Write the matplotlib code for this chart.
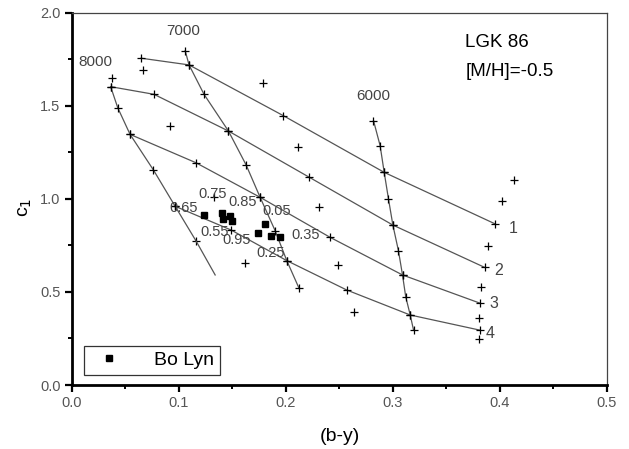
import matplotlib
matplotlib.use("Agg")
import matplotlib.pyplot as plt
from matplotlib.ticker import MultipleLocator

plt.rcParams['font.family'] = ['Liberation Sans', 'DejaVu Sans']

# lines of constant gravity (labelled 1..4 at the right end)
g1_x = [0.0648, 0.1096, 0.1978, 0.2919, 0.3956]
g1_y = [1.755, 1.719, 1.446, 1.142, 0.865]
g2_x = [0.0364, 0.0769, 0.1464, 0.2221, 0.300, 0.3856]
g2_y = [1.602, 1.561, 1.364, 1.115, 0.859, 0.632]
g3_x = [0.0545, 0.1159, 0.176, 0.2414, 0.309, 0.3816]
g3_y = [1.346, 1.194, 1.008, 0.793, 0.591, 0.439]
g4_x = [0.0966, 0.149, 0.2009, 0.257, 0.3162, 0.381]
g4_y = [0.960, 0.832, 0.668, 0.510, 0.376, 0.295]
g_labels = ['1', '2', '3', '4']
g_label_x = [0.412, 0.399, 0.394, 0.391]
g_label_y = [0.842, 0.614, 0.439, 0.279]

# isotherms
t8000_x = [0.0364, 0.0430, 0.0545, 0.0763, 0.0966, 0.1162]
t8000_y = [1.602, 1.489, 1.346, 1.155, 0.960, 0.773]
t8000_end = (0.134, 0.591)
t7000_x = [0.1060, 0.1096, 0.1236, 0.1464, 0.1629, 0.176, 0.190, 0.2009, 0.2124]
t7000_y = [1.795, 1.719, 1.561, 1.364, 1.182, 1.008, 0.829, 0.668, 0.519]
t6000_x = [0.2819, 0.2881, 0.2919, 0.2959, 0.300, 0.3052, 0.309, 0.312, 0.3162, 0.3193]
t6000_y = [1.420, 1.285, 1.142, 0.999, 0.859, 0.721, 0.591, 0.474, 0.376, 0.295]
t_labels = ['8000', '7000', '6000']
t_label_x = [0.0218, 0.1040, 0.2816]
t_label_y = [1.735, 1.901, 1.552]

# grid points not on a drawn line
grid_x = [0.0670, 0.179, 0.0380, 0.0919, 0.2112, 0.2311, 0.4134, 0.4019, 0.3884,
          0.2492, 0.3822, 0.2641, 0.380, 0.3804, 0.133, 0.162]
grid_y = [1.692, 1.624, 1.647, 1.393, 1.278, 0.958, 1.101, 0.988, 0.748,
          0.644, 0.528, 0.394, 0.358, 0.245, 1.011, 0.654]

# Bo Lyn observations
bo_x = [0.1236, 0.1408, 0.1417, 0.148, 0.1495, 0.1744, 0.1807, 0.186, 0.195]
bo_y = [0.913, 0.925, 0.890, 0.908, 0.882, 0.815, 0.863, 0.802, 0.797]
phase_labels = ['0.75', '0.85', '0.65', '0.55', '0.95', '0.05', '0.35', '0.25']
phase_x = [0.1181, 0.1461, 0.0909, 0.1199, 0.1405, 0.1779, 0.2049, 0.1723]
phase_y = [1.026, 0.984, 0.949, 0.823, 0.779, 0.936, 0.806, 0.707]

fig = plt.figure(figsize=(6.29, 4.49), dpi=100)
ax = fig.add_axes([0.114, 0.1425, 0.851, 0.8295])

line_kw = dict(color='#555555', lw=0.9, marker='+', ms=5.5, mew=0.9, mec='black')
for xs, ys in [(g1_x, g1_y), (g2_x, g2_y), (g3_x, g3_y), (g4_x, g4_y),
               (t7000_x, t7000_y), (t6000_x, t6000_y)]:
    ax.plot(xs, ys, **line_kw)
ax.plot(t8000_x, t8000_y, **line_kw)
ax.plot([t8000_x[-1], t8000_end[0]], [t8000_y[-1], t8000_end[1]], color='#555555', lw=0.9)
ax.plot(grid_x, grid_y, ls='none', marker='+', ms=5.5, mew=0.9, color='black')

ax.plot(bo_x, bo_y, ls='none', marker='s', ms=5, color='black', label='Bo Lyn')

for lab, x, y in zip(g_labels, g_label_x, g_label_y):
    ax.text(x, y, lab, fontsize=11.5, color='#444444', ha='center', va='center')
for lab, x, y in zip(t_labels, t_label_x, t_label_y):
    ax.text(x, y, lab, fontsize=11, color='#444444', ha='center', va='center')
for lab, x, y in zip(phase_labels, phase_x, phase_y):
    ax.text(x, y, lab, fontsize=10.5, color='#444444', ha='left', va='center')

ax.text(0.3678, 1.837, 'LGK 86', fontsize=13.5, ha='left', va='center')
ax.text(0.3678, 1.681, '[M/H]=-0.5', fontsize=13.5, ha='left', va='center')

ax.set_xlim(0, 0.5)
ax.set_ylim(0, 2.0)
ax.xaxis.set_major_locator(MultipleLocator(0.1))
ax.xaxis.set_minor_locator(MultipleLocator(0.05))
ax.yaxis.set_major_locator(MultipleLocator(0.5))
ax.yaxis.set_minor_locator(MultipleLocator(0.25))
ax.xaxis.set_major_formatter(plt.FormatStrFormatter('%.1f'))
ax.yaxis.set_major_formatter(plt.FormatStrFormatter('%.1f'))
ax.tick_params(which='major', direction='out', length=5, width=1.6,
               labelsize=10.5, labelcolor='#555555', pad=3)
ax.tick_params(which='minor', direction='out', length=3, width=1.4)

for s in ['left', 'bottom']:
    ax.spines[s].set_linewidth(2)
for s in ['top', 'right']:
    ax.spines[s].set_linewidth(0.9)
    ax.spines[s].set_color('#444444')

ax.set_xlabel('(b-y)', fontsize=14)
ax.set_ylabel('c$_1$', fontsize=14)
ax.xaxis.set_label_coords(0.501, -0.115)
ax.yaxis.set_label_coords(-0.07, 0.478)

leg = ax.legend(loc='lower left', bbox_to_anchor=(0.023, 0.027), fontsize=14,
                fancybox=False, edgecolor='#333333', framealpha=1,
                borderpad=0.3, handletextpad=1.3, borderaxespad=0, handlelength=2.0)
leg.get_frame().set_linewidth(0.9)

fig.savefig('out.png', dpi=100)
